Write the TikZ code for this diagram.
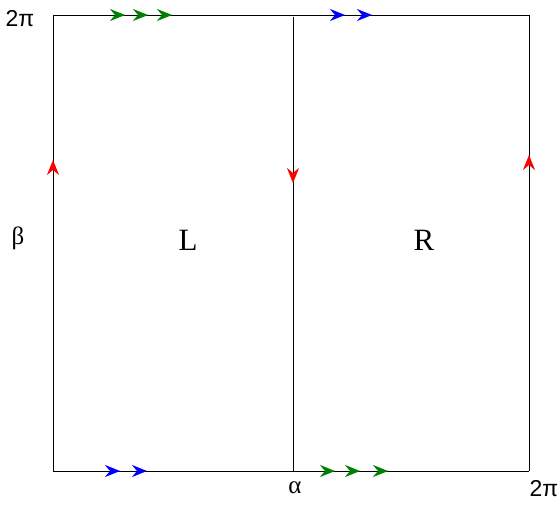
\documentclass[tikz,border=0pt]{standalone}
\usepackage{fontspec}
\usepackage{tikz}
\usetikzlibrary{arrows.meta, decorations.markings, positioning}
\setmainfont{Liberation Serif}
\newfontfamily\labelfont{Liberation Sans}
\definecolor{tipgreen}{RGB}{0,128,0}
\definecolor{tipblue}{RGB}{0,0,255}
\definecolor{tipred}{RGB}{255,0,0}

\begin{document}
\begin{tikzpicture}[x=1pt, y=-1pt,
    >={Stealth[length=15pt, width=12pt, inset=5pt]},
    edge/.style={line width=1pt, black, postaction={decorate}},
    ends/.style={font=\labelfont\fontsize{23}{23}\selectfont, inner sep=0pt},
    angle/.style={font=\fontsize{25}{25}\selectfont, inner sep=0pt},
    region/.style={font=\fontsize{31}{31}\selectfont, inner sep=0pt}]
    \useasboundingbox (0,0) rectangle (560,504);

    \coordinate (bl) at (53,471);
    \coordinate (br) at (529,471);
    \coordinate (tl) at (53,15);
    \coordinate (tr) at (529,15);
    \coordinate (mt) at (293,17);
    \coordinate (mb) at (293,471);

    % top and bottom edges
    \draw [edge, decoration={markings,
        mark=at position 72pt with {\arrow[tipgreen]{>}},
        mark=at position 95pt with {\arrow[tipgreen]{>}},
        mark=at position 119pt with {\arrow[tipgreen]{>}},
        mark=at position 292pt with {\arrow[tipblue]{>}},
        mark=at position 319pt with {\arrow[tipblue]{>}}}] (tl) -- (tr);
    \draw [edge, decoration={markings,
        mark=at position 67pt with {\arrow[tipblue]{>}},
        mark=at position 94pt with {\arrow[tipblue]{>}},
        mark=at position 282pt with {\arrow[tipgreen]{>}},
        mark=at position 307pt with {\arrow[tipgreen]{>}},
        mark=at position 335pt with {\arrow[tipgreen]{>}}}] (bl) -- (br);

    % sides and cut
    \draw [edge, decoration={markings,
        mark=at position 311pt with {\arrow[tipred]{>}}}] (bl) -- (tl);
    \draw [edge, decoration={markings,
        mark=at position 316pt with {\arrow[tipred]{>}}}] (br) -- (tr);
    \draw [edge, decoration={markings,
        mark=at position 166pt with {\arrow[tipred]{>}}}] (mt) -- (mb);

    \node (top) [ends] at (20,19) {2π};
    \node (right) [ends] at (544,489) {2π};
    \node (alpha) [angle] at (295,488) {α};
    \node (beta) [angle] at (18,238) {β};
    \node (left) [region] at (188,240) {L};
    \node (rightreg) [region] at (424,240) {R};
\end{tikzpicture}
\end{document}
